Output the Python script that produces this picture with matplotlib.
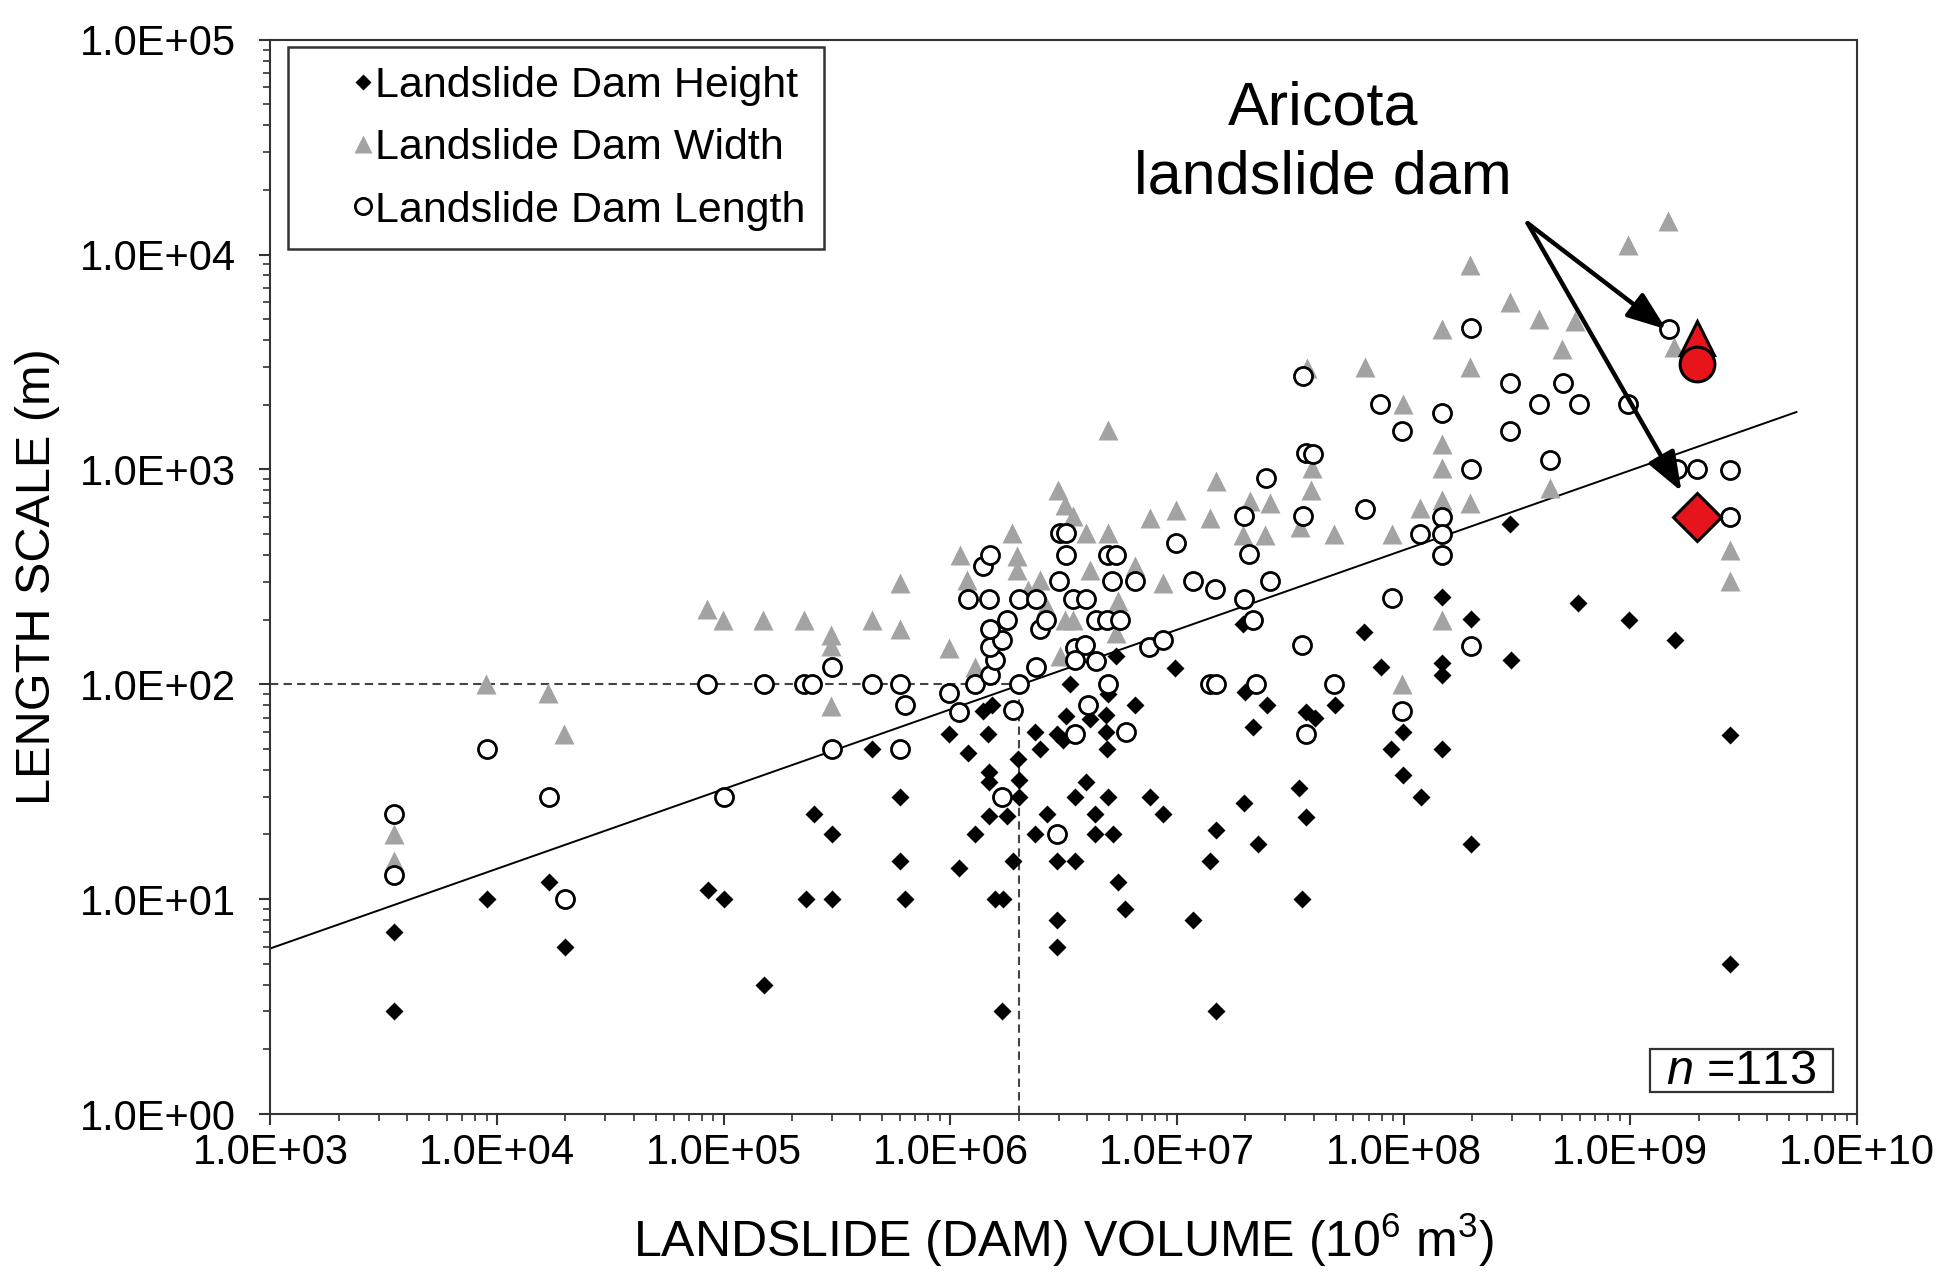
from __future__ import annotations

import matplotlib

matplotlib.use("Agg")
import matplotlib.pyplot as plt
from matplotlib.patches import Rectangle
from matplotlib.ticker import FixedLocator, LogLocator, NullFormatter

plt.rcParams["font.family"] = ["Liberation Sans", "DejaVu Sans"]
plt.rcParams["mathtext.fontset"] = "custom"
plt.rcParams["mathtext.rm"] = "Liberation Sans"
plt.rcParams["mathtext.it"] = "Liberation Sans:italic"

# landslide dam height (black diamonds): volume, height in m
height_volume = [
    3.5e3, 3.5e3, 9e3, 1.7e4, 2e4, 8.5e4, 1.0e5, 1.5e5, 2.3e5, 2.5e5,
    3.0e5, 3.0e5, 4.5e5, 6.0e5, 6.0e5, 6.3e5, 9.9e5, 1.19e6, 1.39e6, 1.52e6,
    1.47e6, 1.48e6, 1.48e6, 1.48e6, 1.28e6, 1.09e6, 1.57e6, 1.71e6, 1.68e6, 1.99e6,
    2.0e6, 2.0e6, 1.77e6, 1.88e6, 2.36e6, 2.48e6, 2.36e6, 2.67e6, 2.94e6, 3.14e6,
    3.25e6, 3.37e6, 2.96e6, 2.96e6, 2.96e6, 3.54e6, 3.54e6, 3.98e6, 4.12e6, 4.34e6,
    4.33e6, 4.88e6, 4.88e6, 4.9e6, 4.97e6, 4.97e6, 5.19e6, 5.4e6, 5.5e6, 5.9e6,
    6.5e6, 7.6e6, 8.7e6, 9.8e6, 1.18e7, 1.4e7, 1.48e7, 1.48e7, 1.95e7, 1.97e7,
    2.0e7, 2.16e7, 2.28e7, 2.5e7, 3.45e7, 3.54e7, 3.72e7, 3.72e7, 4.05e7, 4.97e7,
    6.7e7, 7.9e7, 8.8e7, 9.9e7, 9.9e7, 1.19e8, 1.48e8, 1.48e8, 1.48e8, 1.48e8,
    1.97e8, 1.97e8, 2.93e8, 2.96e8, 5.89e8, 9.86e8, 1.58e9, 2.74e9, 2.74e9,
]
height_m = [
    7, 3, 10, 12, 6, 11, 10, 4, 10, 25,
    20, 10, 50, 30, 15, 10, 59, 48, 75, 80,
    59, 39, 35, 24.5, 20, 14, 10, 10, 3, 45,
    36, 30, 24.5, 15, 60, 50, 20, 25, 59, 55,
    71, 100, 15, 8, 6, 30, 15, 35, 69, 25,
    20, 72, 60, 50, 30, 90, 20, 135, 12, 9,
    80, 30, 25, 119, 8, 15, 21, 3, 190, 28,
    92, 63, 18, 80, 33, 10, 74, 24, 70, 80,
    175, 120, 50, 60, 38, 30, 255, 126, 111, 50,
    201, 18, 559, 130, 240, 200, 160, 58, 5,
]

# landslide dam width (grey triangles)
width_volume = [
    3.5e3, 3.5e3, 8.9e3, 1.68e4, 1.98e4, 8.4e4, 9.9e4, 1.49e5, 2.27e5, 2.96e5,
    2.96e5, 2.96e5, 4.5e5, 6.0e5, 6.0e5, 9.9e5, 1.1e6, 1.18e6, 1.28e6, 1.86e6,
    1.96e6, 1.96e6, 2.48e6, 2.99e6, 3.2e6, 3.48e6, 3.98e6, 4.12e6, 3.2e6, 3.48e6,
    3.03e6, 2.65e6, 4.97e6, 4.97e6, 5.5e6, 6.5e6, 5.4e6, 7.6e6, 9.9e6, 8.7e6,
    1.39e7, 1.48e7, 2.1e7, 2.57e7, 1.95e7, 2.44e7, 3.9e7, 3.5e7, 3.95e7, 1.46e9,
    9.8e8, 1.96e8, 2.95e8, 3.95e8, 5.7e8, 1.47e8, 5.0e8, 1.55e9, 3.76e7, 6.73e7,
    1.96e8, 9.9e7, 1.48e8, 1.48e8, 1.48e8, 1.96e8, 1.18e8, 4.43e8, 4.93e7, 8.83e7,
    2.75e9, 2.75e9, 1.48e8, 9.87e7, 2.2e6,
]
width_m = [
    20, 15, 100, 91, 59, 223, 199, 199, 199, 170,
    150, 79, 199, 296, 180, 148, 401, 307, 121, 506,
    394, 341, 307, 805, 686, 604, 506, 341, 199, 199,
    135, 231, 506, 1531, 243, 354, 173, 594, 650, 296,
    594, 880, 710, 697, 497, 497, 800, 540, 1020, 14290,
    11140, 8985, 6040, 4990, 4900, 4490, 3620, 3730, 2950, 2990,
    2990, 2010, 1309, 1020, 723, 695, 664, 822, 502, 502,
    422, 301, 199, 100, 275,
]

# landslide dam length (open circles)
length_volume = [
    3.5e3, 3.5e3, 9e3, 1.7e4, 2e4, 8.4e4, 1.0e5, 1.5e5, 2.25e5, 2.45e5,
    3.0e5, 3.0e5, 4.5e5, 6.0e5, 6.3e5, 6.0e5, 9.9e5, 1.09e6, 1.28e6, 1.49e6,
    1.57e6, 1.49e6, 1.68e6, 1.49e6, 1.77e6, 1.19e6, 1.48e6, 1.39e6, 1.5e6, 2.0e6,
    2.38e6, 2.0e6, 1.88e6, 2.48e6, 2.65e6, 2.38e6, 3.0e6, 3.03e6, 3.25e6, 3.25e6,
    3.46e6, 3.98e6, 3.54e6, 3.92e6, 3.54e6, 4.38e6, 4.05e6, 3.54e6, 4.97e6, 5.98e6,
    4.97e6, 5.4e6, 5.15e6, 6.5e6, 4.4e6, 4.9e6, 5.6e6, 7.5e6, 8.7e6, 9.9e6,
    1.18e7, 1.47e7, 1.39e7, 1.48e7, 1.97e7, 2.46e7, 2.08e7, 2.57e7, 1.97e7, 2.16e7,
    2.24e7, 3.54e7, 3.72e7, 3.6e7, 3.72e7, 4.9e7, 1.68e6, 2.96e6, 1.99e8, 1.48e9,
    3.6e7, 7.87e7, 1.48e8, 9.87e7, 2.95e8, 3.95e8, 5.05e8, 5.95e8, 2.95e8, 9.8e8,
    3.98e7, 1.99e8, 4.43e8, 6.73e7, 1.48e8, 1.18e8, 1.48e8, 1.48e8, 8.83e7, 1.99e8,
    9.87e7, 1.6e9, 1.96e9, 2.75e9, 2.75e9,
]
length_m = [
    25, 13, 50, 30, 10, 100, 30, 100, 100, 100,
    120, 50, 100, 100, 80, 50, 91, 74, 100, 111,
    130, 149, 160, 181, 199, 250, 250, 354, 401, 250,
    250, 100, 76, 180, 199, 120, 301, 506, 506, 401,
    250, 250, 148, 152, 130, 128, 80, 59, 100, 60,
    401, 401, 301, 301, 199, 199, 199, 149, 160, 455,
    301, 278, 100, 100, 604, 912, 405, 301, 250, 199,
    100, 152, 1191, 604, 59, 100, 30, 20, 4530, 4490,
    2720, 2010, 1827, 1510, 2530, 2010, 2530, 2010, 1510, 2010,
    1177, 1010, 1110, 657, 603, 502, 502, 401, 253, 151,
    75, 1000, 1000, 990, 603,
]

# Aricota landslide dam (red markers)
aricota_volume = 1.96e9
aricota_height = 600
aricota_width = 4100
aricota_length = 3100

# trend line end points and reference dashed lines
trend_volume = [1e3, 5.4e9]
trend_length = [5.9, 1850]
ref_volume = 2e6
ref_length = 100

# arrows: shared tail, two heads
arrow_tail = (3.52e8, 14000)
arrow_heads = [(1.44e9, 4490), (1.68e9, 790)]

x_tick_values = [1e3, 1e4, 1e5, 1e6, 1e7, 1e8, 1e9, 1e10]
x_tick_labels = ["1.0E+03", "1.0E+04", "1.0E+05", "1.0E+06",
                 "1.0E+07", "1.0E+08", "1.0E+09", "1.0E+10"]
y_tick_values = [1e0, 1e1, 1e2, 1e3, 1e4, 1e5]
y_tick_labels = ["1.0E+00", "1.0E+01", "1.0E+02", "1.0E+03", "1.0E+04", "1.0E+05"]

AXIS_COLOR = "#333333"
RED = "#e8141c"


def plot_chart(output_path: str) -> None:
    fig = plt.figure(figsize=(19.46, 12.73), dpi=100)
    ax = fig.add_axes([0.1390, 0.1249, 0.8153, 0.8439])
    ax.set_xscale("log")
    ax.set_yscale("log")

    # reference dashed lines and trend
    ax.plot([trend_volume[0], ref_volume], [ref_length, ref_length],
            color="#444444", lw=1.5, ls=(0, (4, 2.5)), zorder=1)
    ax.plot([ref_volume, ref_volume], [1, ref_length],
            color="#444444", lw=1.5, ls=(0, (4, 2.5)), zorder=1)
    ax.plot(trend_volume, trend_length, color="black", lw=1.4, zorder=1)

    ax.plot(width_volume, width_m, ls="none", marker="^", ms=14,
            color="#a3a3a3", mec="none", label="Landslide Dam Width", zorder=2)
    ax.plot(height_volume, height_m, ls="none", marker="D", ms=9.5,
            color="black", mec="none", label="Landslide Dam Height", zorder=3)
    ax.plot(length_volume, length_m, ls="none", marker="o", ms=13,
            mfc="white", mec="black", mew=2.0, label="Landslide Dam Length", zorder=4)

    # Aricota
    ax.plot([aricota_volume], [aricota_width], ls="none", marker="^", ms=25,
            mfc=RED, mec="black", mew=2.2, zorder=5)
    ax.plot([aricota_volume], [aricota_length], ls="none", marker="o", ms=25,
            mfc=RED, mec="black", mew=2.2, zorder=6)
    ax.plot([aricota_volume], [aricota_height], ls="none", marker="D", ms=24,
            mfc=RED, mec="black", mew=2.2, zorder=6)

    for head in arrow_heads:
        ax.annotate("", xy=head, xytext=arrow_tail, xycoords="data", textcoords="data",
                    arrowprops=dict(arrowstyle="-|>,head_length=0.8,head_width=0.3",
                                    lw=3.2, color="black", shrinkA=0, shrinkB=0,
                                    mutation_scale=30),
                    zorder=7)

    ax.text(0.6634, 0.903, "Aricota\nlandslide dam", transform=ax.transAxes,
            ha="center", va="center", multialignment="center", fontsize=44,
            linespacing=1.27)

    # n = 113 box
    ax.add_patch(Rectangle((0.8695, 0.0205), 0.1154, 0.040, transform=ax.transAxes,
                           fc="white", ec=AXIS_COLOR, lw=1.6, zorder=8))
    ax.text(0.927, 0.040, "$n$ =113", transform=ax.transAxes, ha="center",
            va="center", fontsize=35, zorder=9)

    ax.set_xlim(1e3, 1e10)
    ax.set_ylim(1, 1e5)
    ax.xaxis.set_major_locator(FixedLocator(x_tick_values))
    ax.set_xticklabels(x_tick_labels)
    ax.yaxis.set_major_locator(FixedLocator(y_tick_values))
    ax.set_yticklabels(y_tick_labels)
    for axis in (ax.xaxis, ax.yaxis):
        axis.set_minor_locator(LogLocator(base=10, subs=range(2, 10), numticks=100))
        axis.set_minor_formatter(NullFormatter())

    ax.tick_params(which="major", direction="out", length=8, width=1.5,
                   color=AXIS_COLOR, labelsize=30)
    ax.tick_params(which="minor", direction="out", length=5, width=1.2, color=AXIS_COLOR)
    ax.tick_params(axis="x", which="major", pad=5.5)
    ax.tick_params(axis="y", which="major", pad=17)
    for spine in ax.spines.values():
        spine.set_color(AXIS_COLOR)
        spine.set_linewidth(1.5)

    ax.set_xlabel("LANDSLIDE (DAM) VOLUME (10$^6$ m$^3$)", fontsize=36)
    ax.xaxis.set_label_coords(0.5, -0.133)
    ax.xaxis.label.set_verticalalignment("baseline")
    ax.set_ylabel("LENGTH SCALE (m)", fontsize=35)
    ax.yaxis.set_label_coords(-0.147, 0.5)
    ax.yaxis.label.set_verticalalignment("center")
    ax.yaxis.label.set_horizontalalignment("center")

    handles, labels = ax.get_legend_handles_labels()
    order = [1, 0, 2]
    legend = ax.legend([handles[i] for i in order], [labels[i] for i in order],
                       loc="upper left", bbox_to_anchor=(0.011, 0.993),
                       borderaxespad=0, fontsize=31, frameon=True, fancybox=False,
                       numpoints=1, handlelength=2.62, handletextpad=-1.03,
                       borderpad=0.43, labelspacing=0.52, markerscale=0.9)
    legend.get_frame().set_edgecolor(AXIS_COLOR)
    legend.get_frame().set_linewidth(1.8)
    legend.get_frame().set_alpha(1)

    fig.savefig(output_path, dpi=100)
    plt.close(fig)


def main() -> int:
    plot_chart("out.png")
    return 0


if __name__ == "__main__":
    raise SystemExit(main())
